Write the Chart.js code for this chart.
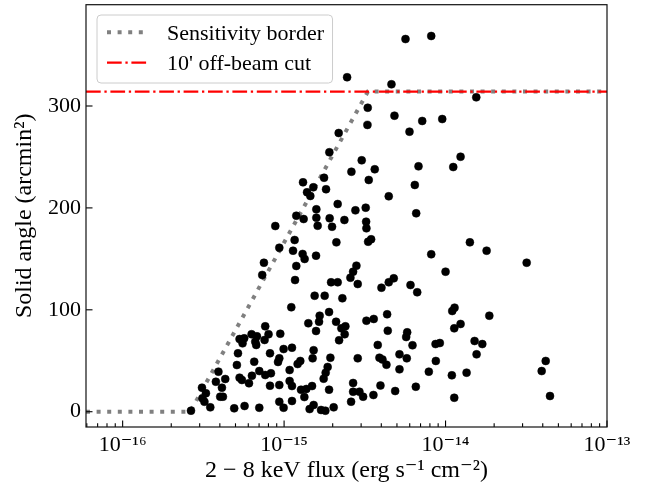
<!DOCTYPE html>
<html>
<head>
<meta charset="utf-8">
<script src="https://cdn.jsdelivr.net/npm/chart.js@4/dist/chart.umd.min.js"></script>
<style>
html,body{margin:0;padding:0;background:#fff;}
#wrap{width:648px;height:485px;}
</style>
</head>
<body>
<div id="wrap"><canvas id="c" width="648" height="485"></canvas></div>
<script>
// Flux values are read in units of 1e-15 erg s^-1 cm^-2
const FLUX_UNIT = 1e-15;

const sourceFlux = [
  0.882,0.934,0.750,0.732,0.764,0.801,0.947,0.629,0.679,0.530,0.566,0.553,0.663,0.672,0.757,0.518,
  0.818,0.993,0.934,0.917,0.510,0.653,0.702,0.764,0.829,0.530,0.548,0.632,0.606,0.818,0.934,0.392,
  0.378,0.432,0.412,0.310,0.328,0.402,0.418,0.312,0.321,0.349,0.265,0.491,0.569,0.702,0.934,0.993,
  1.614,1.982,3.235,1.162,2.108,3.315,3.460,1.136,1.302,1.340,1.577,1.190,2.805,2.676,2.575,2.858,
  4.009,1.169,1.954,2.147,1.546,1.784,2.296,1.108,1.899,1.661,1.413,1.646,2.099,2.397,2.264,3.235,
  3.591,1.577,2.373,2.191,3.802,1.119,1.524,1.502,1.935,2.858,3.895,1.260,1.213,1.861,1.809,1.758,
  1.082,1.082,1.119,1.273,1.373,1.490,1.899,2.676,2.676,2.928,3.087,3.575,3.952,2.600,1.335,1.119,
  1.524,1.439,1.694,1.801,2.028,
  14.15,8.153,10.0,4.778,4.448,6.066,6.676,11.37,11.00,12.39,11.32,4.347,4.386,5.786,5.704,6.241,
  8.670,9.218,5.184,4.305,5.753,5.184,8.707,7.878,10.94,13.50,4.875,6.544,11.32,4.067,
  17.96,31.80,18.67,15.13,16.89,15.57,41.72,39.39,44.36,
  2.456,3.296,3.282,2.178,1.907,3.025,2.612,3.643,3.344,1.310,1.768,1.387,1.517,1.454,1.819,2.147,
  1.190,1.321,1.584,1.584,1.915,2.363,2.765,3.203,3.222,
  5.648,8.153,4.624,15.50,4.826,7.170,9.539,5.980,12.39,11.16,6.800,6.451,4.448,6.580
];
const sourceSolidAngle = [
  182.2,160.9,146.2,134.2,83.8,76.0,76.5,76.0,74.0,71.3,72.0,67.1,68.7,65.5,70.4,57.3,
  57.3,61.5,52.4,48.8,45.8,49.1,39.9,36.0,37.7,33.4,31.1,35.3,27.9,25.5,26.2,39.3,
  29.4,32.1,23.6,23.6,18.1,14.7,14.7,13.2,9.8,4.3,1.0,3.3,5.6,3.9,9.8,3.9,
  182.5,181.5,180.0,168.5,166.2,166.8,169.2,158.0,154.8,149.9,153.1,143.0,143.3,137.4,131.5,125.3,
  121.7,129.2,127.0,127.0,113.8,113.8,111.3,102.5,97.8,94.2,86.8,88.3,88.3,83.8,81.8,89.3,
  91.0,79.2,76.0,70.1,65.5,62.8,60.3,52.4,53.0,52.4,53.0,49.8,46.8,43.9,38.3,32.4,
  40.9,30.1,25.2,21.6,22.3,25.2,21.6,28.2,19.6,19.6,14.7,16.4,25.7,9.8,14.4,10.5,
  6.6,2.6,1.7,1.0,4.3,
  166.2,154.5,137.4,130.9,127.0,124.3,117.2,102.1,98.8,86.1,81.8,95.6,79.5,77.9,73.3,65.2,
  66.4,67.4,56.3,46.1,52.4,41.6,49.8,39.3,35.7,38.3,20.3,24.5,13.7,51.2,
  158.0,146.2,94.2,69.4,66.4,56.3,49.8,39.9,15.4,
  328.2,298.3,281.4,273.5,254.6,246.7,235.5,237.9,227.4,225.1,229.6,215.3,220.2,211.7,218.3,203.8,
  192.3,189.1,198.6,190.4,189.8,188.1,197.6,200.2,186.5,
  365.7,368.7,321.3,308.5,290.5,285.3,287.2,274.8,250.2,240.1,240.8,222.5,211.4,194.7
];

const borderFlux = [0.0593, 0.262, 3.306, 100];
const borderSolidAngle = [0, 0, 314.16, 314.16];
const cutFlux = [0.0593, 100];
const cutSolidAngle = [314.16, 314.16];

const xAxisMin = 5.93e-17, xAxisMax = 1e-13;
const yAxisMin = -15, yAxisMax = 399.4;
const xMajorTicks = [1e-16, 1e-15, 1e-14, 1e-13];
const xTickLabels = ['10\u207B\u00B9\u2076', '10\u207B\u00B9\u2075', '10\u207B\u00B9\u2074', '10\u207B\u00B9\u00B3'];
const yTickValues = [0, 100, 200, 300];
const yTickLabels = ['0', '100', '200', '300'];
const seriesLabels = ['Sensitivity border', "10' off-beam cut"];
const xTitle = '2 \u2212 8 keV flux (erg s\u207B\u00B9 cm\u207B\u00B2)';
const yTitle = 'Solid angle (arcmin\u00B2)';

const toPts = (xs, ys) => xs.map((v, i) => ({x: v * FLUX_UNIT, y: ys[i]}));

// all decade sub-ticks inside the range (minor ticks)
const xAllTicks = [];
for (let e = -17; e <= -13; e++) {
  for (let k = 1; k <= 9; k++) {
    const v = k * Math.pow(10, e);
    if (v >= xAxisMin * 0.999 && v <= xAxisMax * 1.001) xAllTicks.push(v);
  }
}
const isDecade = v => Math.abs(Math.log10(v) - Math.round(Math.log10(v))) < 1e-6;

const SERIF = "'Liberation Serif', 'Times New Roman', 'DejaVu Serif', serif";

const frameAndTicks = {
  id: 'frameAndTicks',
  afterDraw(chart) {
    const {ctx, chartArea: a, scales: {x, y}} = chart;
    ctx.save();
    ctx.strokeStyle = '#000';
    ctx.lineWidth = 1.1;
    x.ticks.forEach(t => {
      const px = x.getPixelForValue(t.value);
      if (px < a.left - 0.5 || px > a.right + 0.5) return;
      const len = isDecade(t.value) ? 6.5 : 3.7;
      ctx.beginPath(); ctx.moveTo(px, a.bottom); ctx.lineTo(px, a.bottom - len); ctx.stroke();
    });
    y.ticks.forEach(t => {
      const py = y.getPixelForValue(t.value);
      ctx.beginPath(); ctx.moveTo(a.left, py); ctx.lineTo(a.left + 6.5, py); ctx.stroke();
    });
    ctx.strokeStyle = '#111';
    ctx.lineWidth = 1.2;
    ctx.strokeRect(a.left, a.top, a.right - a.left, a.bottom - a.top);
    ctx.restore();
  }
};

const boxLegend = {
  id: 'boxLegend',
  afterDraw(chart) {
    const {ctx, chartArea: a} = chart;
    const entries = [chart.data.datasets[2], chart.data.datasets[1]];
    ctx.save();
    ctx.font = '22px ' + SERIF;
    const textW = Math.max(...entries.map(d => ctx.measureText(d.label).width));
    const bx = a.left + 11, by = a.top + 10.3;
    const sampleX0 = bx + 10, sampleLen = 41, textX = sampleX0 + sampleLen + 19;
    const bw = textX - bx + textW + 8.5, bh = 68;
    ctx.beginPath();
    ctx.roundRect(bx, by, bw, bh, 4);
    ctx.fillStyle = 'rgba(255,255,255,0.8)';
    ctx.fill();
    ctx.strokeStyle = '#cccccc';
    ctx.lineWidth = 1;
    ctx.stroke();
    entries.forEach((d, i) => {
      const cy = by + 17.3 + i * 30.4;
      ctx.beginPath();
      ctx.setLineDash(d.borderDash || []);
      ctx.lineDashOffset = 0;
      ctx.lineCap = 'butt';
      ctx.strokeStyle = d.borderColor;
      ctx.lineWidth = d.borderWidth;
      ctx.moveTo(sampleX0, cy); ctx.lineTo(sampleX0 + sampleLen, cy);
      ctx.stroke();
      ctx.setLineDash([]);
      ctx.fillStyle = '#000';
      ctx.textBaseline = 'alphabetic';
      ctx.textAlign = 'left';
      ctx.fillText(d.label, textX, cy + 7.6);
    });
    ctx.restore();
  }
};

new Chart(document.getElementById('c'), {
  type: 'scatter',
  data: {
    datasets: [
      {
        label: 'sources',
        data: toPts(sourceFlux, sourceSolidAngle),
        pointRadius: 4.0,
        pointBackgroundColor: '#000',
        pointBorderColor: '#000',
        pointBorderWidth: 0.5,
        showLine: false
      },
      {
        label: seriesLabels[1],
        data: toPts(cutFlux, cutSolidAngle),
        showLine: true,
        pointRadius: 0,
        borderColor: '#ff0000',
        borderWidth: 2.3,
        borderDash: [14.7, 3.7, 2.3, 3.7],
        borderCapStyle: 'butt',
        fill: false
      },
      {
        label: seriesLabels[0],
        data: toPts(borderFlux, borderSolidAngle),
        showLine: true,
        pointRadius: 0,
        borderColor: '#808080',
        borderWidth: 4,
        borderDash: [4, 6.6],
        borderCapStyle: 'butt',
        borderJoinStyle: 'miter',
        tension: 0,
        fill: false
      }
    ]
  },
  options: {
    responsive: false,
    animation: false,
    devicePixelRatio: 1,
    layout: {padding: {left: 0, right: 41, top: 4.7, bottom: 0}},
    plugins: {legend: {display: false}, tooltip: {enabled: false}},
    scales: {
      x: {
        type: 'logarithmic',
        min: xAxisMin,
        max: xAxisMax,
        bounds: 'data',
        afterBuildTicks: s => { s.ticks = xAllTicks.map(v => ({value: v, major: isDecade(v)})); },
        afterFit: s => { s.height = 58; s.paddingLeft = 0; s.paddingRight = 0; },
        grid: {display: false, drawTicks: false},
        border: {display: false},
        ticks: {
          autoSkip: false,
          maxRotation: 0,
          minRotation: 0,
          padding: 5,
          color: '#000',
          font: {family: SERIF, size: 22},
          callback: v => {
            const i = xMajorTicks.findIndex(m => Math.abs(Math.log10(m) - Math.log10(v)) < 1e-6);
            return i >= 0 ? xTickLabels[i] : '';
          }
        },
        title: {display: true, text: xTitle, color: '#000', font: {family: SERIF, size: 24}, padding: {top: 0, bottom: 0}}
      },
      y: {
        type: 'linear',
        min: yAxisMin,
        max: yAxisMax,
        bounds: 'data',
        afterBuildTicks: s => { s.ticks = yTickValues.map(v => ({value: v})); },
        afterFit: s => { s.width = 86; s.paddingTop = 0; s.paddingBottom = 0; },
        grid: {display: false, drawTicks: false},
        border: {display: false},
        ticks: {
          padding: 5,
          color: '#000',
          font: {family: SERIF, size: 22},
          callback: v => { const i = yTickValues.indexOf(v); return i >= 0 ? yTickLabels[i] : ''; }
        },
        title: {display: true, text: yTitle, color: '#000', font: {family: SERIF, size: 24}, padding: {top: 10.6, bottom: 0}}
      }
    }
  },
  plugins: [frameAndTicks, boxLegend]
});
</script>
</body>
</html>
